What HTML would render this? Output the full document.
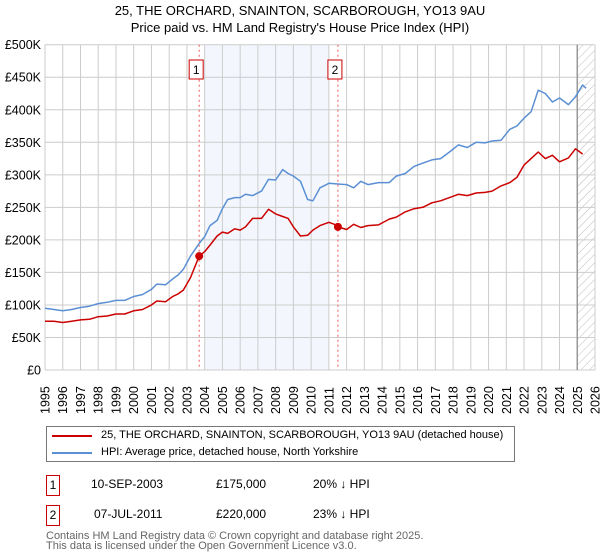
<!DOCTYPE html>
<html><head><meta charset="utf-8"><style>
body{margin:0;width:600px;height:560px;background:#fff;font-family:"Liberation Sans","DejaVu Sans",sans-serif;position:relative;overflow:hidden}
.t{position:absolute;white-space:nowrap;color:#000}
</style></head><body>
<div class="t" style="left:0;width:600px;text-align:center;top:2px;font-size:13px;line-height:17px">25, THE ORCHARD, SNAINTON, SCARBOROUGH, YO13 9AU<br>Price paid vs. HM Land Registry's House Price Index (HPI)</div>
<svg id="chart" width="600" height="420" style="position:absolute;left:0;top:0" font-family="Liberation Sans, DejaVu Sans, sans-serif">
<defs><pattern id="hatch" width="6" height="6" patternUnits="userSpaceOnUse" patternTransform="rotate(45)"><line x1="0" y1="0" x2="0" y2="6" stroke="#bbb" stroke-width="1"/></pattern></defs>
<g id="bg"></g><g id="grid"></g><g id="lines"></g><g id="marks"></g><g id="axes"></g>
</svg>
<div style="position:absolute;left:46px;top:426px;width:467px;height:34px;border:1px solid #777;font-size:11px">
<div style="position:absolute;left:5px;top:2px;height:16px;width:460px"><span style="position:absolute;left:0;top:6px;width:40px;height:2px;background:#cc0000"></span><span class="t" style="left:49px;top:0">25, THE ORCHARD, SNAINTON, SCARBOROUGH, YO13 9AU (detached house)</span></div>
<div style="position:absolute;left:5px;top:19px;height:16px;width:460px"><span style="position:absolute;left:0;top:6px;width:40px;height:2px;background:#5b8fd4"></span><span class="t" style="left:49px;top:0">HPI: Average price, detached house, North Yorkshire</span></div>
</div>
<div style="position:absolute;left:0;top:475px;width:600px;height:21px;font-size:12px">
<span class="t" style="left:46px;top:0;width:12px;height:19px;border:1px solid #cc0000;text-align:center;line-height:19px">1</span>
<span class="t" style="left:91px;top:2px">10-SEP-2003</span><span class="t" style="left:216px;top:2px">£175,000</span><span class="t" style="left:313px;top:2px">20% ↓ HPI</span></div>
<div style="position:absolute;left:0;top:505px;width:600px;height:21px;font-size:12px">
<span class="t" style="left:46px;top:0;width:12px;height:19px;border:1px solid #cc0000;text-align:center;line-height:19px">2</span>
<span class="t" style="left:94px;top:2px">07-JUL-2011</span><span class="t" style="left:216px;top:2px">£220,000</span><span class="t" style="left:313px;top:2px">23% ↓ HPI</span></div>
<div class="t" style="left:46px;top:531px;font-size:11px;line-height:10px;color:#666">Contains HM Land Registry data © Crown copyright and database right 2025.<br>This data is licensed under the Open Government Licence v3.0.</div>
<script>
const hpiYears=[1995,1995.5,1996,1996.5,1997,1997.5,1998,1998.5,1999,1999.5,2000,2000.5,2001,2001.3,2001.8,2002.2,2002.5,2002.8,2003.2,2003.7,2004,2004.3,2004.7,2005,2005.3,2005.7,2006,2006.3,2006.7,2007.2,2007.6,2008,2008.4,2008.7,2009,2009.4,2009.8,2010.1,2010.5,2011,2011.4,2012,2012.4,2012.8,2013.2,2013.8,2014.4,2014.8,2015.3,2015.8,2016.3,2016.8,2017.3,2017.8,2018.3,2018.8,2019.3,2019.8,2020.2,2020.7,2021.2,2021.6,2022,2022.4,2022.8,2023.2,2023.6,2024,2024.5,2024.9,2025.3,2025.5];
const hpiValues=[95,93,91,93,96,98,102,104,107,107,113,116,124,132,131,140,146,155,175,195,205,222,230,248,262,265,265,270,268,275,293,292,308,302,298,290,262,260,280,287,286,285,280,290,285,288,288,298,302,313,318,323,325,335,346,342,350,349,352,353,370,375,387,397,430,425,412,418,408,420,438,433];
const propYears=[1995,1995.5,1996,1996.5,1997,1997.5,1998,1998.5,1999,1999.5,2000,2000.5,2001,2001.3,2001.8,2002.2,2002.5,2002.8,2003.2,2003.69,2004,2004.3,2004.7,2005,2005.3,2005.7,2006,2006.3,2006.7,2007.2,2007.6,2008,2008.4,2008.7,2009,2009.4,2009.8,2010.1,2010.5,2011,2011.4,2011.51,2012,2012.4,2012.8,2013.2,2013.8,2014.4,2014.8,2015.3,2015.8,2016.3,2016.8,2017.3,2017.8,2018.3,2018.8,2019.3,2019.8,2020.2,2020.7,2021.2,2021.6,2022,2022.4,2022.8,2023.2,2023.6,2024,2024.5,2024.9,2025.3];
const propValues=[75,75,73,75,77,78,82,83,86,86,91,93,100,106,105,113,117,123,142,175,182,192,206,212,210,217,215,220,233,233,247,240,236,233,220,206,207,215,222,227,223,220,216,224,219,222,223,232,235,243,248,250,257,260,265,270,268,272,273,275,283,288,296,315,325,335,325,330,320,326,340,332];
const saleYears=[2003.69,2011.51];
const saleValues=[175,220];
const saleLabels=["1","2"];
const yTicks=[0,50,100,150,200,250,300,350,400,450,500];
const yTickLabels=["£0","£50K","£100K","£150K","£200K","£250K","£300K","£350K","£400K","£450K","£500K"];
const xTicks=[1995,1996,1997,1998,1999,2000,2001,2002,2003,2004,2005,2006,2007,2008,2009,2010,2011,2012,2013,2014,2015,2016,2017,2018,2019,2020,2021,2022,2023,2024,2025,2026];
const NS="http://www.w3.org/2000/svg";
const X0=45,X1=595,Y0=370,Y1=44.7;
const xs=y=>X0+(y-1995)/(2026-1995)*(X1-X0);
const ys=v=>Y0-v/500*(Y0-Y1);
function mk(p,tag,a){const e=document.createElementNS(NS,tag);for(const k in a)e.setAttribute(k,a[k]);document.getElementById(p).appendChild(e);return e;}
let e;
e=mk('bg','rect',{x:xs(2004),y:Y1,width:xs(2011)-xs(2004),height:Y0-Y1,fill:'#eef3fc',opacity:0.7});


e=mk('bg','rect',{x:xs(2025),y:Y1,width:X1-xs(2025),height:Y0-Y1,fill:'url(#hatch)'});


yTicks.forEach((t,i)=>{
 e=mk('grid','line',{x1:X0,x2:X1,y1:ys(t),y2:ys(t),stroke:'#cccccc','stroke-width':1});
 
 
 e=mk('axes','text',{x:X0-4,y:ys(t)+4.5,'text-anchor':'end','font-size':12.5,fill:'#000'});
 e.textContent=yTickLabels[i];
 
 
});
xTicks.forEach(t=>{
 e=mk('grid','line',{x1:xs(t),x2:xs(t),y1:Y1,y2:Y0,stroke:'#cccccc','stroke-width':1});
 
 
 e=mk('axes','text',{x:0,y:0,transform:`translate(${xs(t)+4.5},${Y0+44}) rotate(-90)`,'font-size':12.5,fill:'#000'});
 e.textContent=t;
 
 
});
e=mk('grid','line',{x1:xs(2025),x2:xs(2025),y1:Y1,y2:Y0,stroke:'#999','stroke-width':1.5});


function path(xa,va,col,name){
 const d=xa.map((x,i)=>(i?'L':'M')+xs(x).toFixed(1)+','+ys(va[i]).toFixed(1)).join('');
 const p=mk('lines','path',{d:d,fill:'none',stroke:col,'stroke-width':1.5,'stroke-linejoin':'round'});
 
 
}
path(hpiYears,hpiValues,'#5b8fd4','hpi-line');
path(propYears,propValues,'#cc0000','property-line');
saleYears.forEach((s,i)=>{
 e=mk('marks','line',{x1:xs(s),x2:xs(s),y1:Y1,y2:Y0,stroke:'#ee5555','stroke-width':1,'stroke-dasharray':'2,3'});
 
 
 e=mk('marks','circle',{cx:xs(s),cy:ys(saleValues[i]),r:4,fill:'#cc0000'});
 
 
 e=mk('marks','rect',{x:xs(s)-10,y:60,width:14,height:19,fill:'#fff',stroke:'#cc0000','stroke-width':1});
 
 
 e=mk('marks','text',{x:xs(s)-3,y:74,'text-anchor':'middle','font-size':12,fill:'#000'});
 e.textContent=saleLabels[i];
 
 
});
</script>
</body></html>
